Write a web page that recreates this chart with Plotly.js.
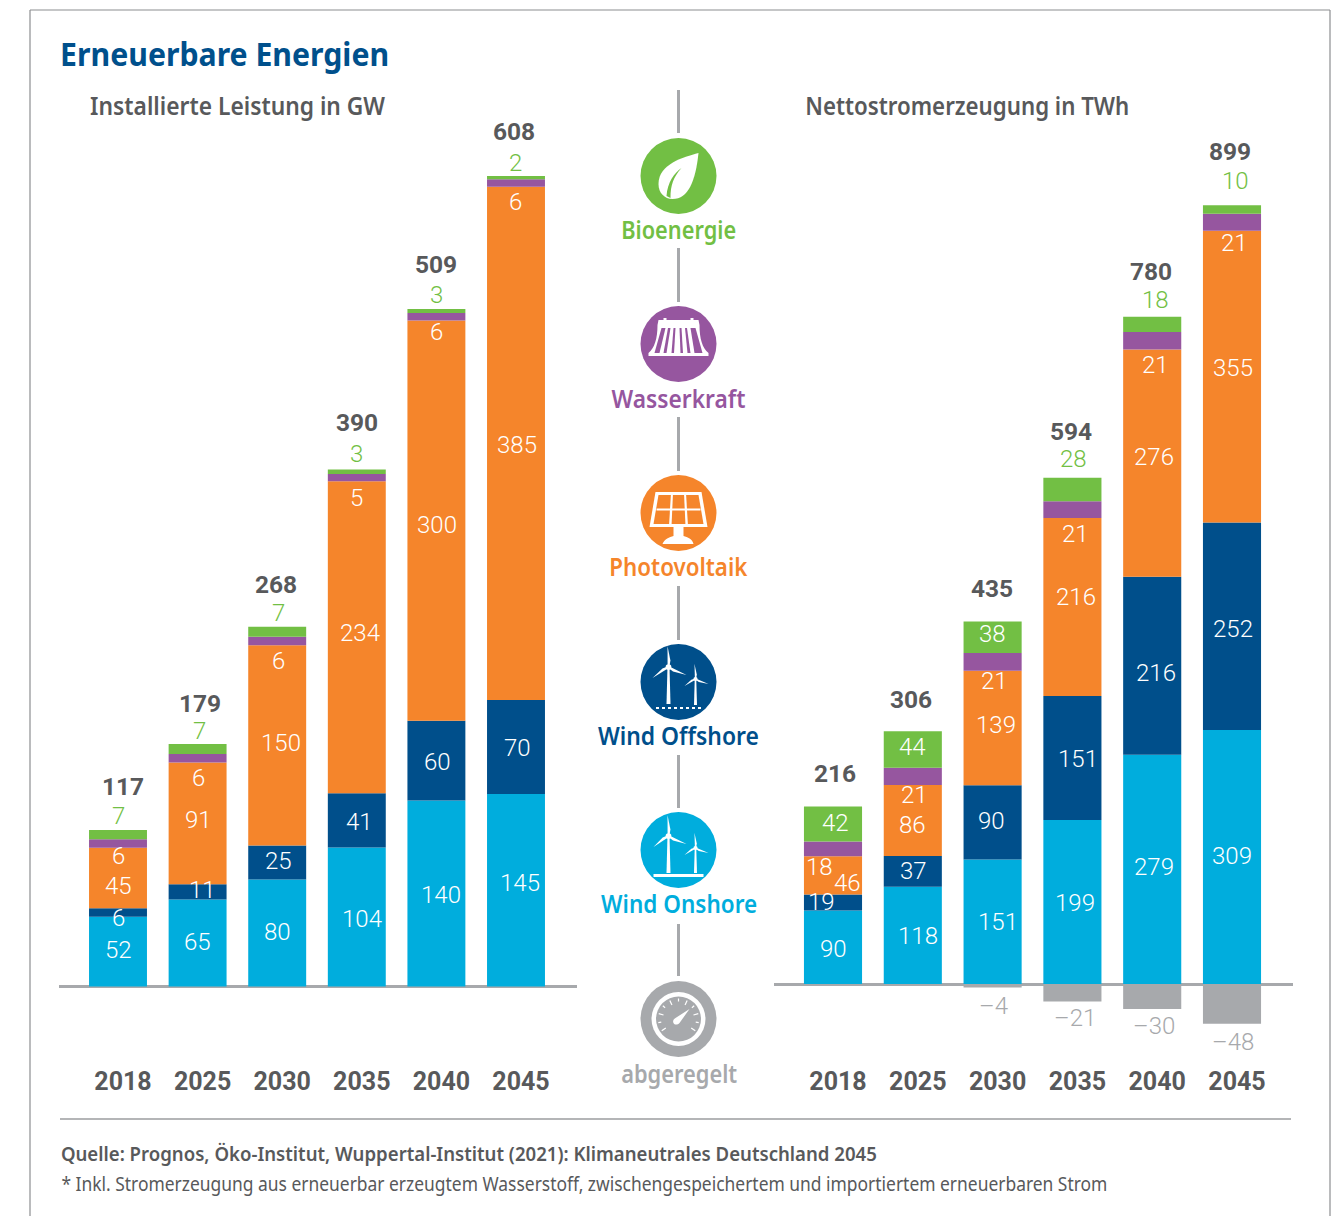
<!DOCTYPE html>
<html lang="de">
<head>
<meta charset="utf-8">
<title>Erneuerbare Energien</title>
<script src="https://cdn.plot.ly/plotly-3.0.1.min.js"></script>
<style>html,body{margin:0;padding:0;background:#fff}#chart{width:1341px;height:1216px}</style>
</head>
<body>
<div id="chart"></div>
<script>
// ---------- data ----------
const years = ['2018', '2025', '2030', '2035', '2040', '2045'];

const gwOnshore  = [52.4, 65.4, 80.4, 104.4, 139.6, 144.6];
const gwOffshore = [6.4, 11.4, 25.4, 40.6, 60, 70.4];
const gwSolar    = [45.4, 91.4, 150.4, 234.4, 300.4, 385.4];
const gwHydro    = [6.4, 6.4, 6.4, 5.4, 5.6, 5.6];
const gwBio      = [6.9, 7.4, 7.4, 3.4, 3, 2.4];
const gwTotal    = [117, 179, 268, 390, 509, 608];

const twhOnshore  = [89.5, 118.4, 151.4, 199.4, 279, 309];
const twhOffshore = [19.4, 37.4, 90.4, 151, 216.4, 252.4];
const twhSolar    = [46.4, 86.4, 139.4, 216.4, 276.4, 355];
const twhHydro    = [18.2, 21, 21.4, 20.6, 21.4, 20.6];
const twhBio      = [42.4, 44.4, 38.4, 28.4, 18.4, 10.4];
const twhCurtail  = [0, 0, -4.4, -21.4, -30.4, -48.4];
const twhTotal    = [216, 306, 435, 594, 780, 899];

const seriesNames = ['Wind Onshore', 'Wind Offshore', 'Photovoltaik', 'Wasserkraft', 'Bioenergie', 'abgeregelt'];

// ---------- styling / layout constants ----------
const W = 1341, H = 1216;
const C = {onshore:'#00addd', offshore:'#004f8b', solar:'#f5852b', hydro:'#96569f', bio:'#72bf44', grey:'#a7a9ac', dark:'#58595b', title:'#00508c'};
const seriesColors = [C.onshore, C.offshore, C.solar, C.hydro, C.bio, C.grey];
const NUM = 'Roboto, sans-serif', HUM = '"Noto Sans", sans-serif';
const FRAME = {top: 90, bottom: 1060};
const LEFT  = {x0: 59,  x1: 577,  c0: 118, step: 79.6, base: 986.5, scale: 1.332};
const RIGHT = {x0: 774, x1: 1293, c0: 833, step: 79.8, base: 984,   scale: 0.822};

// label nudges in screen pixels [dx, dy], relative to the anchor of each label
const nudgeL = {
  on:  [[0,-2],[0,-1],[0,-1],[5,2],[5,1],[4,-7]],
  off: [[0,6],[5,-2],[1,-1],[3,2],[1,1],[1,1]],
  pv:  [[0,8],[1,-3],[4,-2],[3,-4],[1,4],[1,2]],
  hy:  [[0,8],[1,16],[1,16],[0,17],[0,11],[-1,15]],
  bio: [[0,-14],[2,-13],[1,-14],[0,-15],[0,-14],[-1,-13]],
  tot: [[5,-43],[2,-41],[-1,-42],[0,-47],[0,-45],[-2,-45]]
};
const nudgeR = {
  on:  [[0,2],[5,1],[5,0],[3,1],[2,-2],[0,-1]],
  off: [[-12,0],[1,0],[-1,-1],[6,1],[4,7],[1,3]],
  pv:  [[14,8],[0,5],[3,-3],[4,-10],[2,-6],[1,-9]],
  hy:  [[-14,11],[2,10],[2,10],[3,16],[3,15],[2,12]],
  bio: [[2,16],[0,16],[0,12],[1,-19],[3,-17],[3,-24]],
  tot: [[2,-33],[-2,-32],[-1,-33],[-1,-46],[-1,-45],[-2,-54]],
  neg: [[0,0],[0,0],[1,18],[3,16],[2,17],[1,18]]
};

function yRange(p) {
  return [(p.base - FRAME.bottom) / p.scale, (p.base - FRAME.top) / p.scale];
}
function xRange(p) {
  return [(p.x0 - p.c0) / p.step, (p.x1 - p.c0) / p.step];
}

function barTraces(arrays, xa, ya) {
  return arrays.map((vals, i) => ({
    type: 'bar', x: years, y: vals, name: seriesNames[i], xaxis: xa, yaxis: ya,
    marker: {color: seriesColors[i], line: {width: 0}}, hoverinfo: 'skip', showlegend: false
  }));
}

const traces = barTraces([gwOnshore, gwOffshore, gwSolar, gwHydro, gwBio], 'x', 'y')
  .concat(barTraces([twhOnshore, twhOffshore, twhSolar, twhHydro, twhBio, twhCurtail], 'x2', 'y2'));

// ---------- value labels ----------
const annotations = [];
function valueLabel(xa, ya, i, yVal, nudge, text, color, bold) {
  annotations.push({
    xref: xa, yref: ya, x: i, y: yVal, xshift: nudge[0], yshift: -nudge[1],
    text: String(text), showarrow: false, xanchor: 'center', yanchor: 'middle',
    font: {family: NUM, size: bold ? 24.5 : 24, color: color, weight: bold ? 700 : 300}
  });
}
function labelsFor(xa, ya, on, off, pv, hy, bio, tot, nudge) {
  years.forEach((_, i) => {
    const c1 = on[i], c2 = c1 + off[i], c3 = c2 + pv[i], c4 = c3 + hy[i], c5 = c4 + bio[i];
    valueLabel(xa, ya, i, c1 / 2, nudge.on[i], Math.round(on[i]), '#fff');
    valueLabel(xa, ya, i, (c1 + c2) / 2, nudge.off[i], Math.round(off[i]), '#fff');
    valueLabel(xa, ya, i, (c2 + c3) / 2, nudge.pv[i], Math.round(pv[i]), '#fff');
    valueLabel(xa, ya, i, c3, nudge.hy[i], Math.round(hy[i]), '#fff');
    valueLabel(xa, ya, i, c5, nudge.bio[i], Math.round(bio[i]), bio[i] >= 30 ? '#fff' : C.bio);
    valueLabel(xa, ya, i, c5, nudge.tot[i], tot[i], C.dark, true);
  });
}
labelsFor('x', 'y', gwOnshore, gwOffshore, gwSolar, gwHydro, gwBio, gwTotal, nudgeL);
labelsFor('x2', 'y2', twhOnshore, twhOffshore, twhSolar, twhHydro, twhBio, twhTotal, nudgeR);
years.forEach((_, i) => {
  if (twhCurtail[i] < 0) valueLabel('x2', 'y2', i, twhCurtail[i], nudgeR.neg[i], '\u2013' + Math.round(-twhCurtail[i]), C.grey);
});

// ---------- static text (x is the left edge, width the measured text width) ----------
const fitWidths = {};
function paperText(text, left, y, size, color, weight, width) {
  annotations.push({
    xref: 'paper', yref: 'paper', x: (left + width / 2) / W, y: 1 - y / H, text: text, showarrow: false,
    xanchor: 'center', yanchor: 'middle',
    font: {family: HUM, size: size, color: color, weight: weight}
  });
  fitWidths[text] = width;
}
paperText('Erneuerbare Energien', 60, 53, 33, C.title, 700, 329);
paperText('Installierte Leistung in GW', 90, 105, 24.5, C.dark, 600, 295);
paperText('Nettostromerzeugung in TWh', 805, 105, 24.5, C.dark, 600, 324);
paperText('Quelle: Prognos, \u00d6ko-Institut, Wuppertal-Institut (2021): Klimaneutrales Deutschland 2045', 61, 1153, 19.5, C.dark, 600, 816);
paperText('* Inkl. Stromerzeugung aus erneuerbar erzeugtem Wasserstoff, zwischengespeichertem und importiertem erneuerbaren Strom', 61, 1183, 19.5, C.dark, 400, 1046);
paperText('Bioenergie', 621, 229, 26, C.bio, 600, 115);
paperText('Wasserkraft', 612, 398, 26, C.hydro, 600, 134);
paperText('Photovoltaik', 610, 566, 26, C.solar, 600, 138);
paperText('Wind Offshore', 598, 735, 26, C.offshore, 600, 161);
paperText('Wind Onshore', 601, 903, 26, C.onshore, 600, 156);
paperText('abgeregelt', 621, 1073, 26, C.grey, 600, 116);

// ---------- decoration: frame, rules, icons ----------
const shapes = [];
const nx = v => (v / W).toFixed(5), ny = v => (1 - v / H).toFixed(5);
function line(x0, y0, x1, y1, color, width, dash) {
  shapes.push({type: 'line', xref: 'paper', yref: 'paper', x0: x0 / W, x1: x1 / W, y0: 1 - y0 / H, y1: 1 - y1 / H,
    line: {color: color, width: width, dash: dash || 'solid'}});
}
function disc(cx, cy, r, color) {
  shapes.push({type: 'circle', xref: 'paper', yref: 'paper', x0: (cx - r) / W, x1: (cx + r) / W, y0: 1 - (cy + r) / H, y1: 1 - (cy - r) / H,
    fillcolor: color, line: {width: 0}});
}
function glyph(cx, cy, d, fill) {
  const path = d.replace(/(-?\d+\.?\d*),(-?\d+\.?\d*)/g, (m, a, b) => nx(cx + parseFloat(a)) + ',' + ny(cy + parseFloat(b)));
  shapes.push({type: 'path', xref: 'paper', yref: 'paper', path: path, fillcolor: fill, line: {width: 0}});
}
function blade(cx, cy, hx, hy, tx, ty, w) {
  const dx = tx - hx, dy = ty - hy, L = Math.hypot(dx, dy), ux = dx / L, uy = dy / L;
  const m = 0.3;
  glyph(cx, cy, `M${(hx - uy * w * .4).toFixed(2)},${(hy + ux * w * .4).toFixed(2)}` +
    `L${(hx + dx * m - uy * w).toFixed(2)},${(hy + dy * m + ux * w).toFixed(2)}` +
    `L${tx},${ty}L${(hx + uy * w * .4).toFixed(2)},${(hy - ux * w * .4).toFixed(2)}Z`, '#fff');
}
function turbine(cx, cy, hx, hy, bottom, tips, tw, bw) {
  glyph(cx, cy, `M${hx - tw * .5},${hy}L${hx + tw * .5},${hy}L${hx + tw},${bottom}L${hx - tw},${bottom}Z`, '#fff');
  tips.forEach(t => blade(cx, cy, hx, hy, t[0], t[1], bw));
  disc(cx + hx, cy + hy, bw * 1.3, '#fff');
}

line(30, 10, 30, 1216, '#8c8e90', 1.2);
line(30, 10, 1330, 10, '#8c8e90', 1.2);
line(1330, 10, 1330, 1216, '#8c8e90', 1.2);
line(60, 1119, 1291, 1119, '#b4b5b7', 2);
[[90, 133], [248, 302], [417, 471], [586, 640], [755, 808], [924, 976]].forEach(s => line(678.5, s[0], 678.5, s[1], C.grey, 3));

// Bioenergie: leaf
disc(678.5, 176, 38, C.bio);
glyph(678.5, 176, 'M20,-23C5,-19 -20,-12 -20,8C-20,17 -14,23 -6,23C10,23 17,5 20,-23Z', '#fff');
glyph(678.5, 176, 'M-12,20C-11,6 -4,-3 3,-8C-5,1 -8,9 -8,22Z', C.bio);

// Wasserkraft: dam
disc(678.5, 344, 38, C.hydro);
glyph(678.5, 344, 'M-15,-26L-12,-26L-12,-24L12,-24L12,-26L15,-26L15,-24L20,-24L21,-19C21,-5 24,4 30,9L30,12L-30,12L-30,9C-24,4 -21,-5 -21,-19L-20,-24L-15,-24Z', '#fff');
[[-17, -13, -24, 9, -19, 9], [-10.5, -8, -15, 9, -12, 9], [-5, -3, -7, 9, -4.5, 9], [1, 3, 2, 9, 4.5, 9], [6.5, 8.5, 9, 9, 12, 9], [12, 17, 16, 9, 24, 9]]
  .forEach(g => glyph(678.5, 344, `M${g[0]},-16L${g[1]},-16L${g[4]},${g[5]}L${g[2]},${g[3]}Z`, C.hydro));

// Photovoltaik: panel
disc(678.5, 513, 38, C.solar);
glyph(678.5, 513, 'M-23,-21L23,-21L29,14L-29,14Z', '#fff');
glyph(678.5, 513, 'M-20,-18L20,-18L25,11L-25,11Z', C.solar);
glyph(678.5, 513, 'M-22,-4.5L22,-4.5L22,-2.5L-22,-2.5Z', '#fff');
glyph(678.5, 513, 'M-7.5,-20L-5.5,-20L-7,13L-9.5,13Z', '#fff');
glyph(678.5, 513, 'M5.5,-20L7.5,-20L9.5,13L7,13Z', '#fff');
glyph(678.5, 513, 'M-5,14L5,14L5,23C9,24 14,26 15,31L-16,31C-14,26 -9,24 -5,23Z', '#fff');

// Wind Offshore
disc(678.5, 682, 38, C.offshore);
turbine(678.5, 682, -10, -15, 22, [[-11, -36], [8, -7], [-26, -4]], 2, 2.2);
turbine(678.5, 682, 17, -3, 23, [[16, -18], [30, 2], [6, 4]], 1.5, 1.6);
line(656, 708, 702, 708, '#fff', 2, 'dot');

// Wind Onshore
disc(678.5, 850, 38, C.onshore);
turbine(678.5, 850, -10, -14, 23, [[-11, -35], [8, -6], [-25, -3]], 2, 2.2);
turbine(678.5, 850, 17, -2, 23, [[16, -17], [30, 3], [6, 5]], 1.5, 1.6);
glyph(678.5, 850, 'M-25,24L25,24L25,27L-25,27Z', '#fff');

// abgeregelt: gauge
disc(678.5, 1019, 38, C.grey);
disc(678.5, 1019, 27, '#fff');
disc(678.5, 1019, 22.5, C.grey);
for (let k = 0; k <= 10; k++) {
  const a = (215 - k * 25) * Math.PI / 180;
  const r0 = k % 2 ? 17.5 : 15.5, r1 = 20.5;
  line(678.5 + r0 * Math.cos(a), 1019 - r0 * Math.sin(a), 678.5 + r1 * Math.cos(a), 1019 - r1 * Math.sin(a), '#fff', 1.2);
}
glyph(678.5, 1019, 'M11,-10L1,4C-1,6 -4,6 -5,4C-6,2 -5,0 -3,-1Z', '#fff');

// ---------- layout ----------
function xAxis(p, anchor) {
  return {domain: [p.x0 / W, p.x1 / W], range: xRange(p), type: 'category', anchor: anchor, showgrid: false, zeroline: false,
    showline: false, ticks: '', ticklabelshift: 5, ticklabelstandoff: 4, fixedrange: true, tickangle: 0,
    tickfont: {family: NUM, size: 25, color: C.dark, weight: 700}};
}
function yAxis(p, anchor) {
  return {domain: [1 - FRAME.bottom / H, 1 - FRAME.top / H], range: yRange(p), anchor: anchor, showgrid: false,
    showticklabels: false, ticks: '', showline: false, zeroline: true, zerolinecolor: C.grey, zerolinewidth: 3, fixedrange: true};
}
const layout = {
  width: W, height: H, margin: {l: 0, r: 0, t: 0, b: 0}, paper_bgcolor: '#fff', plot_bgcolor: 'rgba(0,0,0,0)',
  barmode: 'relative', bargap: 0.272, showlegend: false,
  xaxis: xAxis(LEFT, 'y'), yaxis: yAxis(LEFT, 'x'),
  xaxis2: xAxis(RIGHT, 'y2'), yaxis2: yAxis(RIGHT, 'x2'),
  annotations: annotations, shapes: shapes
};

Plotly.newPlot('chart', traces, layout, {displayModeBar: false, staticPlot: true}).then(() => {
  document.querySelectorAll('#chart .annotation-text').forEach(t => {
    const w = fitWidths[t.textContent];
    if (w) { t.setAttribute('textLength', w); t.setAttribute('lengthAdjust', 'spacingAndGlyphs'); }
  });
});
</script>
</body>
</html>
